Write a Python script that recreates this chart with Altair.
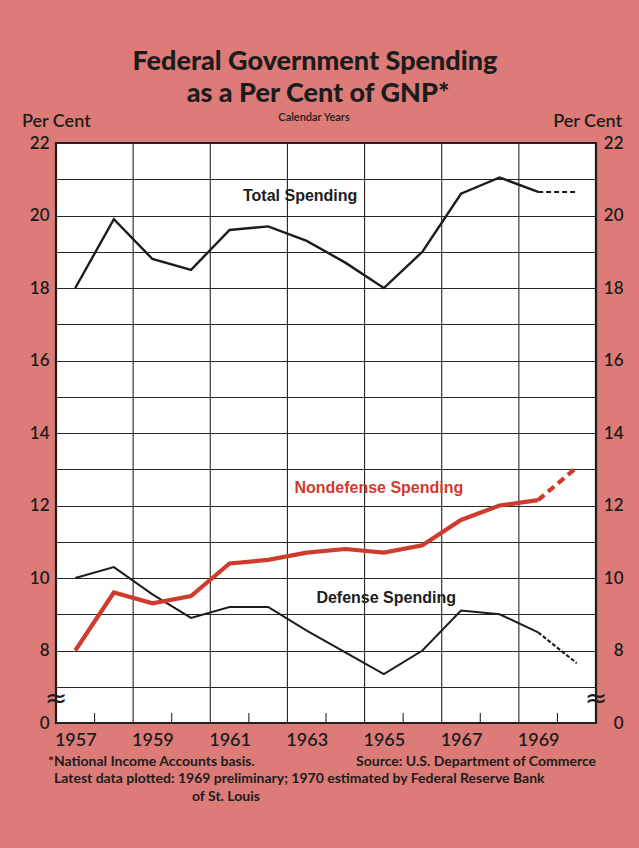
import altair as alt
import pandas as pd

# ---- data -------------------------------------------------------------
YEARS = list(range(1957, 1971))
TOTAL = [18.0, 19.9, 18.8, 18.5, 19.6, 19.7, 19.3, 18.7, 18.0, 19.0, 20.6, 21.05, 20.65, 20.65]
NONDEFENSE = [8.0, 9.6, 9.3, 9.5, 10.4, 10.5, 10.7, 10.8, 10.7, 10.9, 11.6, 12.0, 12.15, 13.05]
DEFENSE = [10.0, 10.3, 9.55, 8.9, 9.2, 9.2, 8.55, 7.95, 7.35, 8.0, 9.1, 9.0, 8.5, 7.65]

YEAR_LABELS = [1957, 1959, 1961, 1963, 1965, 1967, 1969]
GRID_YEARS = [1958.5, 1960.5, 1962.5, 1964.5, 1966.5, 1968.5]
MINOR_TICKS = [1957.5, 1959.5, 1961.5, 1963.5, 1965.5, 1967.5, 1969.5]
Y_TICKS = list(range(6, 23))

# ---- layout / style ---------------------------------------------------
W, H = 540, 580
BG = "#dc7b77"
RED = "#cf3b2c"
INK = "#1c1c1c"
FONT = "Lato"
LABEL_FONT = "Liberation Sans, Arial, sans-serif"

rows = []
for name, vals in [("Total", TOTAL), ("Nondefense", NONDEFENSE), ("Defense", DEFENSE)]:
    for yr, v in zip(YEARS, vals):
        if yr <= 1969:
            rows.append({"series": name, "part": "actual", "year": yr, "value": v})
        if yr >= 1969:
            rows.append({"series": name, "part": "estimate", "year": yr, "value": v})
df = pd.DataFrame(rows)

x_scale = alt.Scale(domain=[1956.5, 1970.5], nice=False, zero=False)
y_scale = alt.Scale(domain=[6, 22], nice=False, zero=False)

x_axis = alt.Axis(values=YEAR_LABELS, grid=False, ticks=False, domain=False, title=None,
                  labelFontSize=18, labelPadding=8, labelColor=INK, labelFont=FONT,
                  labelFontWeight=600, format="d")
label_expr = "datum.value == 6 ? '0' : (datum.value % 2 == 0 ? datum.label : '')"
y_left = alt.Axis(values=Y_TICKS, grid=True, gridColor="#262626", gridWidth=1.1, ticks=False,
                  domain=False, title=None, orient="left", labelExpr=label_expr,
                  labelFontSize=17, labelPadding=7, labelColor=INK, labelFont=FONT,
                  labelFontWeight=600)
y_right = alt.Axis(values=Y_TICKS, grid=False, ticks=False, domain=False, title=None,
                   orient="right", labelExpr=label_expr, labelAlign="right",
                   labelFontSize=17, labelPadding=27, labelColor=INK, labelFont=FONT,
                   labelFontWeight=600)

X = alt.X("year:Q", scale=x_scale, axis=x_axis)


def series_line(name, part, color, width, dash=None, axis=None):
    mark_kw = dict(color=color, strokeWidth=width, strokeJoin="miter", strokeCap="butt")
    if dash:
        mark_kw["strokeDash"] = dash
    return alt.Chart(df).transform_filter(
        (alt.datum.series == name) & (alt.datum.part == part)
    ).mark_line(**mark_kw).encode(
        x=X,
        y=alt.Y("value:Q", scale=y_scale, axis=axis),
    )


# vertical grid lines (every second year boundary)
vgrid = alt.Chart(pd.DataFrame({"year": GRID_YEARS})).mark_rule(
    color="#262626", strokeWidth=1.1
).encode(x=X, y=alt.value(0), y2=alt.value(H))

# short ticks rising from the bottom edge
minor = alt.Chart(pd.DataFrame({"year": MINOR_TICKS})).mark_rule(
    color="#262626", strokeWidth=1.1
).encode(x=X, y=alt.value(H), y2=alt.value(H - 10))

# right-hand axis carrier
right_axis = alt.Chart(pd.DataFrame({"year": [1957], "value": [22]})).mark_point(opacity=0).encode(
    x=X, y=alt.Y("value:Q", scale=y_scale, axis=y_right)
)

# axis-break marks
brk = alt.Chart(pd.DataFrame({"year": [1956.5, 1970.5], "value": [6.66, 6.66]})).mark_text(
    text="≈", fontSize=27, color=INK, font="DejaVu Sans", baseline="middle"
).encode(x=X, y=alt.Y("value:Q", scale=y_scale, axis=None))

# series labels, placed in data space
lbl = pd.DataFrame({
    "year": [1962.83, 1964.87, 1965.06],
    "value": [20.55, 12.49, 9.46],
    "text": ["Total Spending", "Nondefense Spending", "Defense Spending"],
    "color": [INK, RED, INK],
})
labels = alt.Chart(lbl).mark_text(
    font=LABEL_FONT, fontWeight="bold", fontSize=16, baseline="middle"
).encode(
    x=X, y=alt.Y("value:Q", scale=y_scale, axis=None),
    text="text:N", color=alt.Color("color:N", scale=None),
)


def note(text, x, y, size, align="left", weight="bold", font=FONT):
    return alt.Chart(pd.DataFrame({"t": [text]})).mark_text(
        align=align, baseline="alphabetic", fontSize=size, fontWeight=weight,
        font=font, color=INK,
    ).encode(text="t:N", x=alt.value(x), y=alt.value(y))


texts = [
    note("Federal Government Spending", 259, -73, 27, align="center", weight=900),
    note("as a Per Cent of GNP*", 262, -41, 27, align="center", weight=900),
    note("Calendar Years", 258, -22, 11, align="center", weight=600),
    note("Per Cent", -34, -16, 18, weight=600),
    note("Per Cent", 566, -16, 18, align="right", weight=600),
    note("*National Income Accounts basis.", -8, 623, 14, weight=700),
    note("Source: U.S. Department of Commerce", 540, 623, 14, align="right", weight=700),
    note("Latest data plotted: 1969 preliminary; 1970 estimated by Federal Reserve Bank",
         -2, 640, 14, weight=700),
    note("of St. Louis", 136, 658, 14, weight=700),
]

chart = alt.layer(
    vgrid,
    minor,
    series_line("Total", "actual", INK, 2.4, axis=y_left),
    series_line("Total", "estimate", INK, 2.0, dash=[5, 3]),
    series_line("Defense", "actual", INK, 2.0),
    series_line("Defense", "estimate", INK, 2.0, dash=[4, 2]),
    series_line("Nondefense", "actual", RED, 4.2),
    series_line("Nondefense", "estimate", RED, 4.2, dash=[8, 5]),
    right_axis,
    brk,
    labels,
    *texts,
).resolve_axis(y="independent").properties(
    width=W,
    height=H,
    background=BG,
    padding={"left": 56, "top": 143, "right": 43, "bottom": 125},
    autosize=alt.AutoSizeParams(type="none"),
).configure_view(
    fill="white", stroke=INK, strokeWidth=2.2
)

chart.save("out.html", embed_options={"renderer": "svg", "actions": False})
